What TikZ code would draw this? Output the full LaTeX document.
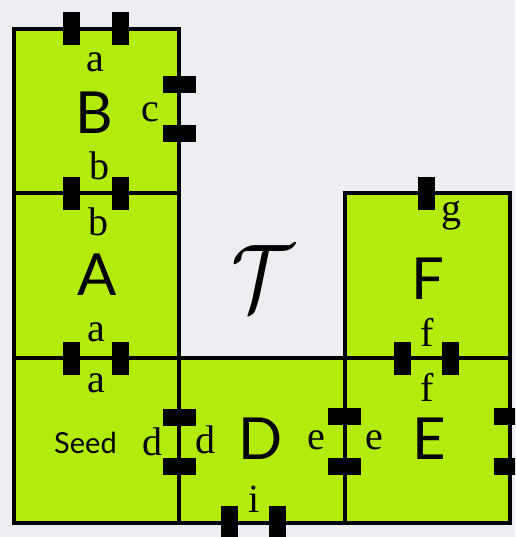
\documentclass[tikz,border=0pt]{standalone}
\usepackage{fontspec}
\setmainfont{Liberation Serif}
\setsansfont{Lato}
\usetikzlibrary{positioning}
\definecolor{tilegreen}{HTML}{B3EB0C}
\definecolor{bggray}{HTML}{ECEEF1}
\tikzset{
  tile/.style={draw=black, line width=4pt, fill=tilegreen, minimum width=165.5pt,
               minimum height=164.5pt, inner sep=0pt, outer sep=0pt},
  gluev/.style={fill=black, minimum width=17pt, minimum height=33pt, inner sep=0pt},
  glueh/.style={fill=black, minimum width=33pt, minimum height=17pt, inner sep=0pt},
  gluelbl/.style={font=\fontsize{40}{40}\selectfont, inner sep=0pt},
  tilelbl/.style={font=\sffamily\fontsize{58}{58}\selectfont, inner sep=0pt}}

\begin{document}
\begin{tikzpicture}[x=1pt, y=-1pt]
  \useasboundingbox (0,0) rectangle (515,537);
  \clip (0,0) rectangle (515,537);
  \fill[bggray] (0,0) rectangle (515,537);
  % tiles of the assembly
  \node[tile] (seed) at (96.25,440.25) {};
  \node[tile, above=0pt of seed] (tA) {};
  \node[tile, above=0pt of tA] (tB) {};
  \node[tile, right=0pt of seed] (tD) {};
  \node[tile, right=0pt of tD] (tE) {};
  \node[tile, above=0pt of tE] (tF) {};
  % glues on horizontal edges
  \foreach \gx/\gy [count=\i] in {71.5/29, 120.5/29, 71.5/193.5, 120.5/193.5,
      71.5/358, 120.5/358, 229.5/522.5, 277.5/522.5, 402.5/358, 450.5/358, 426.5/193.5}
    \node[gluev] (gv\i) at (\gx,\gy) {};
  % glues on vertical edges
  \foreach \gx/\gy [count=\i] in {179/85, 179/134, 179/417, 179/466,
      344.5/416.5, 344.5/466, 510/416.5, 510/466}
    \node[glueh] (gh\i) at (\gx,\gy) {};
  % tile names
  \node[tilelbl] (nB) at (94,112.5) {B};
  \node[tilelbl] (nA) at (97,275) {A};
  \node[tilelbl] (nD) at (261,439) {D};
  \node[tilelbl] (nE) at (429,439) {E};
  \node[tilelbl] (nF) at (428,279) {F};
  \node[font=\sffamily\fontsize{29}{29}\selectfont, inner sep=0pt] (nseed) at (85.5,442.5) {Seed};
  % glue labels
  \node[gluelbl] (lB1) at (95,62) {a};
  \node[gluelbl] (lB2) at (150,112) {c};
  \node[gluelbl] (lB3) at (99,166) {b};
  \node[gluelbl] (lA1) at (98,222) {b};
  \node[gluelbl] (lA2) at (96,332) {a};
  \node[gluelbl] (lS1) at (96,383) {a};
  \node[gluelbl] (lS2) at (152,442) {d};
  \node[gluelbl] (lD1) at (205,440) {d};
  \node[gluelbl] (lD2) at (316,440) {e};
  \node[gluelbl] (lD3) at (254,499) {i};
  \node[gluelbl] (lE1) at (374,440) {e};
  \node[gluelbl] (lE2) at (427,387) {f};
  \node[gluelbl] (lF1) at (427,332) {f};
  \node[gluelbl] (lF2) at (451,216) {g};
  % tile set
  \node[xscale=7.8, yscale=9.5, inner sep=0pt] (tset) at (263,278) {$\mathcal{T}$};
\end{tikzpicture}
\end{document}
